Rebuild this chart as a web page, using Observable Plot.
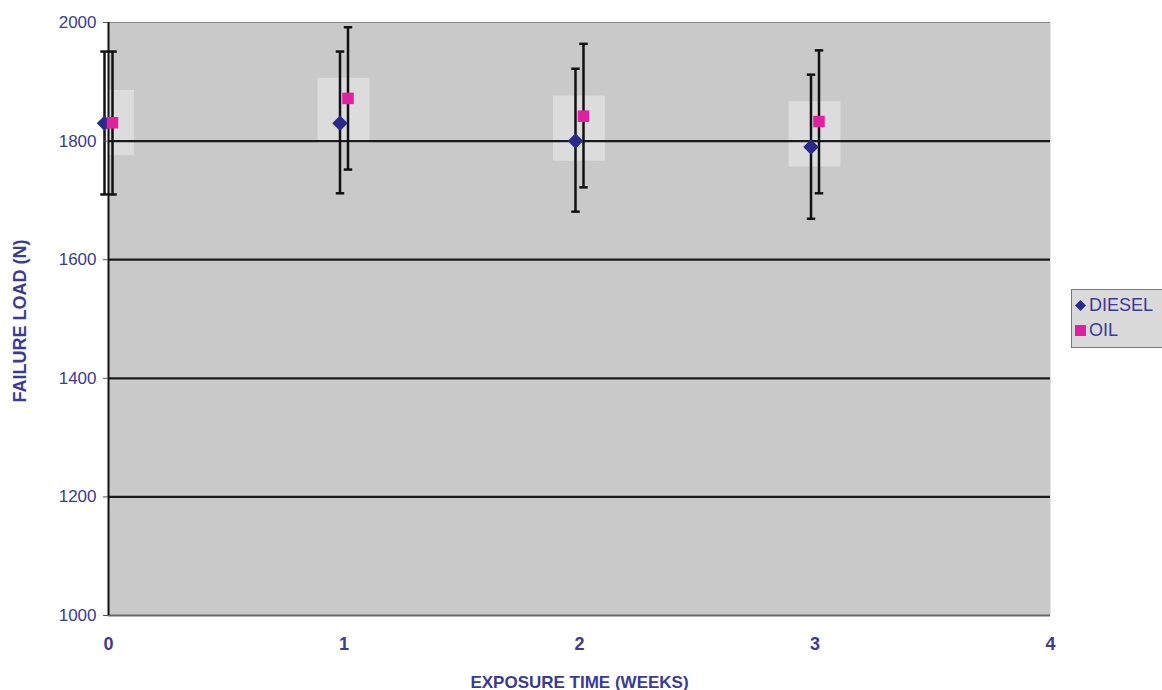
<!DOCTYPE html>
<html><head><meta charset="utf-8">
<script src="https://cdn.jsdelivr.net/npm/d3@7"></script>
<script src="https://cdn.jsdelivr.net/npm/@observablehq/plot@0.6"></script>
<style>
body{margin:0;background:#fff;font-family:"Liberation Sans",Arial,sans-serif;}
#wrap{position:relative;width:1162px;height:690px;overflow:hidden;}
#legend{position:absolute;left:1071px;top:289px;width:100px;height:59px;border:1px solid #777;background:#dadada;box-sizing:border-box;padding:3px 0 0 3px;color:#3a3a98;font-size:18px;line-height:25px;}
#legend .row{display:flex;align-items:center;white-space:nowrap;}
#legend .sym{display:inline-block;width:11px;height:11px;margin-right:3px;}
</style></head>
<body><div id="wrap"><div id="legend">
<div class="row"><svg class="sym" viewBox="0 0 10 10"><polygon points="5,0 10,5 5,10 0,5" fill="#2a2a8c"/></svg>DIESEL</div>
<div class="row"><svg class="sym" viewBox="0 0 10 10"><rect width="10" height="10" fill="#e020a0"/></svg>OIL</div>
</div></div>
<script>
const weeks = [0, 1, 2, 3];
const dieselMean = [1830, 1830, 1800, 1790];
const dieselLow  = [1710, 1712, 1681, 1669];
const dieselHigh = [1951, 1951, 1922, 1912];
const oilMean = [1831, 1872, 1842, 1833];
const oilLow  = [1710, 1752, 1722, 1712];
const oilHigh = [1951, 1992, 1964, 1953];
const xTicks = [0, 1, 2, 3, 4];
const yTicks = [1000, 1200, 1400, 1600, 1800, 2000];

const diesel = weeks.map((w, i) => ({week: w, mean: dieselMean[i], lo: dieselLow[i], hi: dieselHigh[i]}));
const oil = weeks.map((w, i) => ({week: w, mean: oilMean[i], lo: oilLow[i], hi: oilHigh[i]}));
const boxes = weeks.map((w, i) => { const m = (dieselMean[i] + oilMean[i]) / 2; return {x1: Math.max(0, w - 0.11), x2: w + 0.11, y1: m - 55, y2: m + 55}; });

const textColor = "#3a3a98";
const err = (data, dx) => [
  Plot.ruleX(data, {x: "week", y1: "lo", y2: "hi", stroke: "#111", strokeWidth: 2.5, dx}),
  Plot.link(data, {x1: d => d.week - 0.018, x2: d => d.week + 0.018, y1: "hi", y2: "hi", stroke: "#111", strokeWidth: 2.5, dx}),
  Plot.link(data, {x1: d => d.week - 0.018, x2: d => d.week + 0.018, y1: "lo", y2: "lo", stroke: "#111", strokeWidth: 2.5, dx})
];

const chart = Plot.plot({
  width: 1162, height: 690,
  marginLeft: 108, marginRight: 112, marginTop: 22, marginBottom: 75,
  style: {fontFamily: "'Liberation Sans', Arial, sans-serif", background: "transparent"},
  x: {type: "linear", domain: [0, 4], label: null},
  y: {type: "linear", domain: [1000, 2000], label: null},
  marks: [
    Plot.frame({fill: "#c9c9c9", stroke: null}),
    Plot.rect(boxes, {x1: "x1", x2: "x2", y1: "y1", y2: "y2", fill: "#dcdcdc"}),
    Plot.ruleY(yTicks.filter(t => t > 1000 && t < 2000), {stroke: "#1a1a1a", strokeWidth: 2.2}),
    Plot.ruleY([2000], {stroke: "#888", strokeWidth: 1.2}),
    Plot.ruleY([1000], {stroke: "#666", strokeWidth: 2}),
    Plot.ruleX([0], {stroke: "#111", strokeWidth: 2}),
    ...err(diesel, -4),
    ...err(oil, 4),
    Plot.dot(diesel, {x: "week", y: "mean", symbol: "diamond2", r: 7, fill: "#2a2a8c", stroke: "none", dx: -4}),
    Plot.dot(oil, {x: "week", y: "mean", symbol: "square", r: 6.5, fill: "#e020a0", stroke: "none", dx: 4}),
    Plot.axisY({ticks: yTicks, tickSize: 5, stroke: "#555", tickPadding: 7, fontSize: 17, fill: textColor, label: null, tickFormat: d3.format("d")}),
    Plot.axisX({ticks: xTicks, tickSize: 0, tickPadding: 22, fontSize: 18, fontWeight: "bold", fill: textColor, label: null, tickFormat: d3.format("d")}),
    Plot.text(["EXPOSURE TIME (WEEKS)"], {frameAnchor: "bottom", dy: 72, lineAnchor: "bottom", fontSize: 17, fontWeight: "bold", fill: textColor}),
    Plot.text(["FAILURE LOAD (N)"], {frameAnchor: "left", dx: -88, dy: 2, rotate: -90, textAnchor: "middle", fontSize: 18, fontWeight: "bold", fill: textColor})
  ]
});
document.getElementById("wrap").prepend(chart);
</script></body></html>
